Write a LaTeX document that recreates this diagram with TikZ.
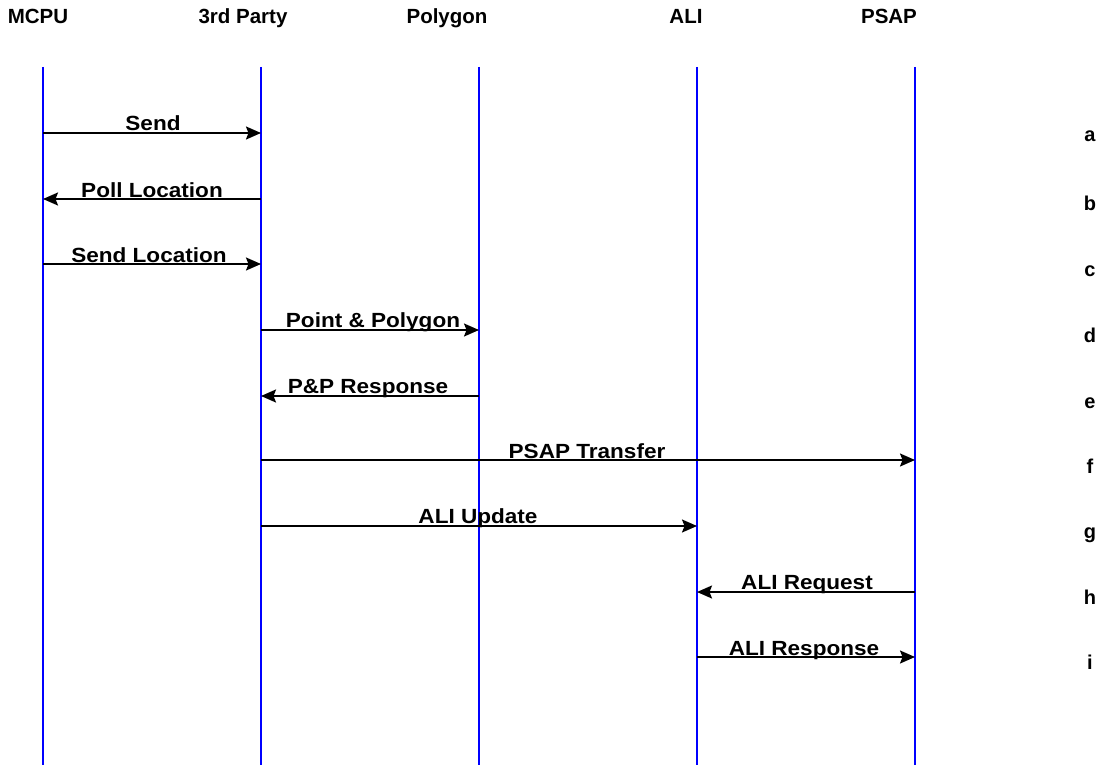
\documentclass[tikz,border=0pt]{standalone}
\usepackage{fontspec}
\setmainfont{Liberation Sans}
\newfontfamily\lblfont{Liberation Sans}[FakeStretch=1.1]
\usetikzlibrary{arrows.meta}
\begin{document}
\begin{tikzpicture}[x=1pt,y=-1pt,
  lifeline/.style={draw=blue, line width=2pt},
  msg/.style={draw=black, line width=1.8pt, -{Stealth[length=15pt,width=13pt,inset=2.5pt]}},
  hdr/.style={font=\fontsize{20.5}{24}\selectfont\bfseries, anchor=base, inner sep=0pt},
  lbl/.style={font=\lblfont\fontsize{20.5}{24}\selectfont\bfseries, anchor=base, inner sep=0pt},
  rowlbl/.style={font=\fontsize{20}{24}\selectfont\bfseries, anchor=base, inner sep=0pt}]
\useasboundingbox (0,0) rectangle (1102,765);
% headers
\node[hdr] (hmcpu) at (38,24) {MCPU};
\node[hdr] (hthird) at (243,24) {3rd Party};
\node[hdr] (hpoly) at (447,24) {Polygon};
\node[hdr] (hali) at (686,24) {ALI};
\node[hdr] (hpsap) at (889,24) {PSAP};
% lifelines
\coordinate (t1) at (43,67);  \coordinate (b1) at (43,765);
\coordinate (t2) at (261,67); \coordinate (b2) at (261,765);
\coordinate (t3) at (479,67); \coordinate (b3) at (479,765);
\coordinate (t4) at (697,67); \coordinate (b4) at (697,765);
\coordinate (t5) at (915,67); \coordinate (b5) at (915,765);
\foreach \i in {1,...,5} \draw[lifeline] (t\i) -- (b\i);
% rows
\coordinate (ra) at (0,133);
\coordinate (rb) at (0,199);
\coordinate (rc) at (0,264);
\coordinate (rd) at (0,330);
\coordinate (re) at (0,396);
\coordinate (rf) at (0,460);
\coordinate (rg) at (0,526);
\coordinate (rh) at (0,592);
\coordinate (ri) at (0,657);
% messages
\draw[msg] (t1|-ra) -- (t2|-ra);
\draw[msg] (t2|-rb) -- (t1|-rb);
\draw[msg] (t1|-rc) -- (t2|-rc);
\draw[msg] (t2|-rd) -- (t3|-rd);
\draw[msg] (t3|-re) -- (t2|-re);
\draw[msg] (t2|-rf) -- (t5|-rf);
\draw[msg] (t2|-rg) -- (t4|-rg);
\draw[msg] (t5|-rh) -- (t4|-rh);
\draw[msg] (t4|-ri) -- (t5|-ri);
% message labels
\node[lbl] (la) at (153,131) {Send};
\node[lbl] (lb) at (152,197) {Poll Location};
\node[lbl] (lc) at (149,262) {Send Location};
\node[lbl] (ld) at (373,327) {Point \& Polygon};
\node[lbl] (le) at (368,393) {P\&P Response};
\node[lbl] (lf) at (587,458) {PSAP Transfer};
\node[lbl] (lg) at (478,523) {ALI Update};
\node[lbl] (lh) at (807,589) {ALI Request};
\node[lbl] (li) at (804,655) {ALI Response};
% row letters
\node[rowlbl] (xa) at (1090,142) {a};
\node[rowlbl] (xb) at (1090,210) {b};
\node[rowlbl] (xc) at (1090,276) {c};
\node[rowlbl] (xd) at (1090,342) {d};
\node[rowlbl] (xe) at (1090,408) {e};
\node[rowlbl] (xf) at (1090,473) {f};
\node[rowlbl] (xg) at (1090,538) {g};
\node[rowlbl] (xh) at (1090,604) {h};
\node[rowlbl] (xi) at (1090,669) {i};
\end{tikzpicture}
\end{document}
